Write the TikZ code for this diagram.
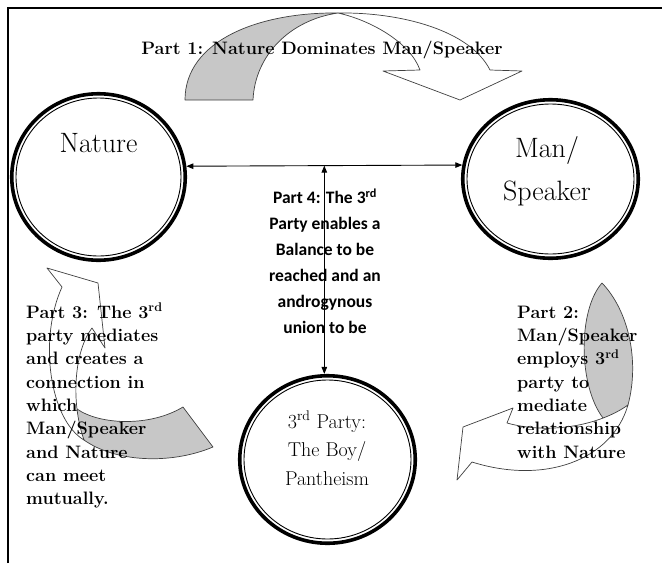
\documentclass[tikz,border=0pt]{standalone}
\usepackage{fontspec}
\newfontfamily\carlito{Carlito}
\usetikzlibrary{shapes.geometric,arrows.meta,calc}
\begin{document}
\begin{tikzpicture}[x=1pt,y=-1pt,
  ring/.style={ellipse, draw, line width=3.6pt, inner sep=0pt},
  thinring/.style={line width=0.9pt},
  conn/.style={line width=0.9pt, {Triangle[length=7pt,width=5.5pt]}-{Triangle[length=7pt,width=5.5pt]}},
  band/.style={draw=black!75, line width=0.7pt, line join=round},
  backband/.style={band, fill=black!22},
  frontband/.style={band, fill=white},
  bigtext/.style={anchor=north, inner sep=0pt, align=center, font=\fontsize{28}{43}\selectfont},
  smalltext/.style={anchor=north, inner sep=0pt, align=center, font=\fontsize{20}{28.5}\selectfont},
  parttext/.style={inner sep=0pt, align=left, font=\fontsize{18}{23.3}\selectfont\bfseries},
  midtext/.style={anchor=north, inner sep=0pt, align=center, font=\carlito\fontsize{17.5}{26}\selectfont\bfseries},
]
\useasboundingbox (0,0) rectangle (662,563);
% frame
\draw[line width=2pt] (8,563) -- (8,8) -- (662,8);

% circles
\node[ring, minimum width=173.5pt, minimum height=166.5pt] (nature) at (98.5,177) {};
\draw[thinring] (nature.center) ellipse [x radius=82.5, y radius=79];
\node[ring, minimum width=175.5pt, minimum height=158.5pt] (man) at (550.5,179) {};
\draw[thinring] (man.center) ellipse [x radius=83.5, y radius=75];
\node[ring, minimum width=175.5pt, minimum height=167.5pt] (party) at (327.5,459.5) {};
\draw[thinring] (party.center) ellipse [x radius=83.5, y radius=79.5];

% connectors
\draw[conn] (nature.7) -- (man.171);
\coordinate (mid) at ($(nature.7)!0.5!(man.171)$);
\draw[conn] (mid) -- (mid |- party.north);

% Part 1 curved arrow (top)
\path[backband] (185,100) -- (253,100) .. controls (255,55) and (290,20) .. (338,13)
   .. controls (260,12) and (185,40) .. (185,100) -- cycle;
\path[frontband] (338,13) .. controls (400,12) and (470,30) .. (490,70) -- (522,71) -- (460,100)
   -- (383,71) -- (420,70) .. controls (410,42) and (370,20) .. (338,13) -- cycle;

% Part 2 curved arrow (right)
\path[backband] (602,283) .. controls (628,310) and (640,360) .. (628,405)
   .. controls (620,412) and (612,416) .. (603,418)
   .. controls (578,385) and (578,310) .. (602,283) -- cycle;
\path[frontband] (628,405) .. controls (612,460) and (545,485) .. (472,462) -- (457,480) -- (463,427)
   -- (513,408) -- (507,423) .. controls (550,435) and (600,425) .. (628,405) -- cycle;

% Part 3 curved arrow (left)
\path[backband] (183,407) -- (213,447) .. controls (170,465) and (115,462) .. (84,440)
   .. controls (79,430) and (77,420) .. (77,409)
   .. controls (100,425) and (150,427) .. (183,407) -- cycle;
\path[frontband] (84,440) .. controls (50,420) and (38,340) .. (62,287) -- (47,268) -- (98,283)
   -- (105,348) -- (92,328) .. controls (75,350) and (70,400) .. (84,440) -- cycle;

% circle texts
\node[bigtext] (naturetxt) at (98.5,131) {\rule{0pt}{21pt}Nature};
\node[bigtext] (mantxt) at (547,136) {\rule{0pt}{21pt}Man/\\Speaker};
\node[smalltext] (partytxt) at (327,410) {\rule{0pt}{18pt}3\textsuperscript{rd} Party:\\The Boy/\\Pantheism};

% part texts
\node[parttext, anchor=base] (p1) at (322,54) {Part 1: Nature Dominates Man/Speaker};
\node[parttext, anchor=north west] (p2) at (517,302) {\rule{0pt}{16pt}Part 2:\\Man/Speaker\\employs 3\textsuperscript{rd}\\party to\\mediate\\relationship\\with Nature};
\node[parttext, anchor=north west] (p3) at (26,302) {\rule{0pt}{16pt}Part 3: The 3\textsuperscript{rd}\\party mediates\\and creates a\\connection in\\which\\Man/Speaker\\and Nature\\can meet\\mutually.};
\node[midtext] (p4) at (325,187.5) {\rule{0pt}{16pt}Part 4: The 3\textsuperscript{rd}\\Party enables a\\Balance to be\\reached and an\\androgynous\\union to be};
\end{tikzpicture}
\end{document}
